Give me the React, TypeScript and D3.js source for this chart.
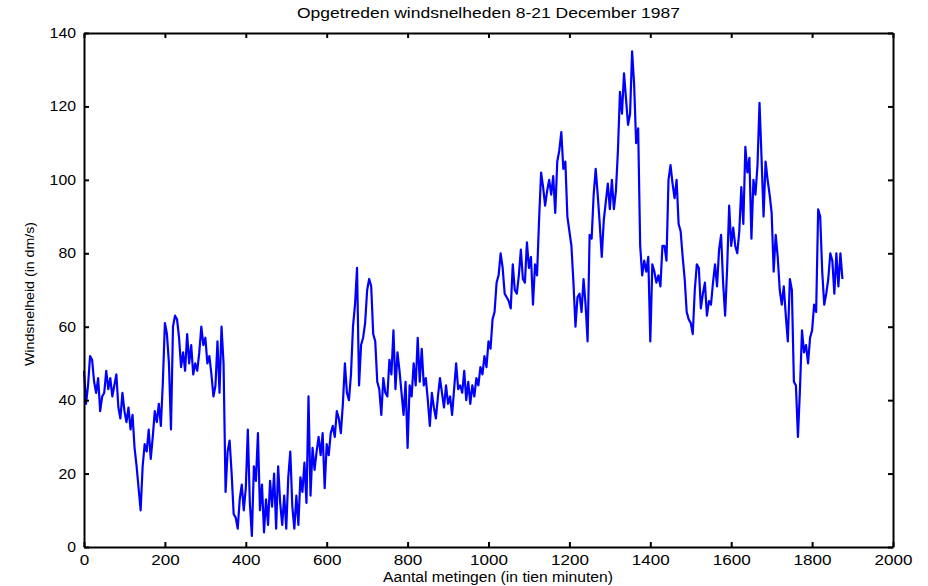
import React, { useRef, useEffect } from "react";
import * as d3 from "d3";

const sampleStep = 5;

const windSpeed = [
  // 0 - 320
  48, 39, 44, 52, 51, 45, 42, 46, 37, 41, 42, 48, 43, 46, 41, 44, 47, 38, 35, 42,
  37, 34, 38, 32, 36, 27, 22, 16, 10, 22, 28, 26, 32, 24, 30, 37, 34, 39, 33, 45,
  61, 58, 50, 32, 60, 63, 62, 57, 49, 53, 48, 58, 50, 55, 47, 50, 48, 53, 60, 55,
  57, 50, 52, 47, 41,
  // 325 - 630
  44, 56, 42, 60, 50, 15, 26, 29, 20, 9, 8, 5, 13, 17, 10, 16, 32, 12, 3, 22,
  18, 31, 10, 17, 4, 13, 6, 18, 11, 20, 5, 22, 12, 6, 14, 5, 19, 26, 11, 5,
  14, 6, 19, 15, 23, 12, 41, 14, 27, 21, 26, 30, 25, 31, 16, 28, 25, 31, 33, 30,
  37, 35,
  // 635 - 940
  31, 39, 50, 42, 40, 47, 60, 66, 76, 44, 55, 57, 61, 70, 73, 71, 58, 56, 45, 43,
  36, 46, 42, 41, 51, 47, 59, 43, 53, 48, 42, 36, 45, 27, 44, 41, 50, 44, 57, 45,
  54, 44, 46, 40, 33, 42, 38, 35, 41, 46, 42, 38, 44, 39, 41, 36, 43, 50, 43, 44,
  42, 48,
  // 945 - 1245
  40, 45, 39, 44, 41, 46, 44, 49, 47, 52, 49, 56, 54, 62, 64, 72, 74, 80, 76, 69,
  68, 67, 65, 77, 70, 69, 74, 81, 73, 72, 83, 76, 79, 66, 77, 74, 89, 102, 98, 93,
  97, 100, 96, 101, 91, 105, 108, 113, 103, 105, 90, 86, 82, 72, 60, 68, 69, 64, 73, 66,
  56,
  // 1250 - 1555
  85, 84, 96, 103, 96, 88, 79, 89, 94, 99, 92, 100, 92, 97, 108, 124, 118, 129, 122, 115,
  118, 135, 126, 110, 114, 82, 74, 78, 75, 79, 56, 77, 75, 72, 74, 71, 82, 82, 78, 100,
  104, 99, 95, 100, 88, 86, 79, 73, 64, 62, 61, 58, 70, 77, 76, 65, 69, 72, 63, 67,
  66, 72,
  // 1560 - 1875
  77, 71, 81, 85, 72, 63, 76, 93, 82, 87, 82, 80, 86, 98, 88, 109, 102, 106, 84, 100,
  96, 104, 121, 106, 90, 105, 100, 96, 91, 75, 85, 79, 70, 66, 71, 63, 56, 73, 70, 45,
  44, 30, 43, 59, 53, 55, 50, 57, 59, 66, 64, 92, 90, 75, 66, 69, 73, 80, 78, 69,
  80, 71, 80, 73,
];

const xTicks = [0, 200, 400, 600, 800, 1000, 1200, 1400, 1600, 1800, 2000];
const yTicks = [0, 20, 40, 60, 80, 100, 120, 140];

const title = "Opgetreden windsnelheden 8-21 December 1987";
const xLabel = "Aantal metingen (in tien minuten)";
const yLabel = "Windsnelheid (in dm/s)";

export default function App() {
  const ref = useRef<SVGSVGElement>(null);

  useEffect(() => {
    if (!ref.current) return;
    const svg = d3.select(ref.current);
    svg.selectAll("*").remove();

    const W = 928;
    const H = 586;
    const margin = { top: 33, right: 35, bottom: 39, left: 84 };
    const font = "'Liberation Sans', Arial, sans-serif";

    const x = d3.scaleLinear().domain([0, 2000]).range([margin.left, W - margin.right]);
    const y = d3.scaleLinear().domain([0, 140]).range([H - margin.bottom, margin.top]);

    // data line
    const line = d3
      .line<number>()
      .x((_, i) => x(i * sampleStep))
      .y((d) => y(d));
    svg
      .append("path")
      .datum(windSpeed)
      .attr("fill", "none")
      .attr("stroke", "#0000ff")
      .attr("stroke-width", 2.2)
      .attr("stroke-linejoin", "round")
      .attr("d", line);

    // axes, ticks pointing inward on every side
    const styleAxis = (g: d3.Selection<SVGGElement, unknown, null, undefined>) => {
      g.select(".domain").attr("stroke", "#000").attr("stroke-width", 2);
      g.selectAll(".tick line").attr("stroke", "#000").attr("stroke-width", 2);
      g.selectAll("text")
        .attr("fill", "#000")
        .style("font-family", font)
        .style("font-size", "14px");
    };

    const bottom = svg
      .append("g")
      .attr("transform", `translate(0,${H - margin.bottom})`)
      .call(d3.axisBottom(x).tickValues(xTicks).tickSize(-5).tickSizeOuter(0).tickPadding(8).tickFormat(d3.format("d")));
    styleAxis(bottom);
    bottom.selectAll<SVGTextElement, number>("text")
      .attr("textLength", (d) => String(d).length * 9.5)
      .attr("lengthAdjust", "spacingAndGlyphs");

    const left = svg
      .append("g")
      .attr("transform", `translate(${margin.left},0)`)
      .call(d3.axisLeft(y).tickValues(yTicks).tickSize(-5).tickSizeOuter(0).tickPadding(8).tickFormat(d3.format("d")));
    styleAxis(left);
    left.selectAll<SVGTextElement, number>("text")
      .attr("textLength", (d) => String(d).length * 8.8)
      .attr("lengthAdjust", "spacingAndGlyphs");

    const top = svg
      .append("g")
      .attr("transform", `translate(0,${margin.top})`)
      .call(d3.axisTop(x).tickValues(xTicks).tickSize(-5).tickSizeOuter(0).tickFormat(() => ""));
    styleAxis(top);

    const right = svg
      .append("g")
      .attr("transform", `translate(${W - margin.right},0)`)
      .call(d3.axisRight(y).tickValues(yTicks).tickSize(-5).tickSizeOuter(0).tickFormat(() => ""));
    styleAxis(right);

    // title & labels
    svg
      .append("text")
      .attr("x", 488.5)
      .attr("y", 18)
      .attr("text-anchor", "middle")
      .attr("textLength", 383)
      .attr("lengthAdjust", "spacingAndGlyphs")
      .style("font-family", font)
      .style("font-size", "14px")
      .text(title);

    svg
      .append("text")
      .attr("x", 498)
      .attr("y", 582)
      .attr("text-anchor", "middle")
      .attr("textLength", 230)
      .attr("lengthAdjust", "spacingAndGlyphs")
      .style("font-family", font)
      .style("font-size", "14px")
      .text(xLabel);

    svg
      .append("text")
      .attr("transform", "translate(34,294) rotate(-90)")
      .attr("text-anchor", "middle")
      .attr("textLength", 144)
      .attr("lengthAdjust", "spacingAndGlyphs")
      .style("font-family", font)
      .style("font-size", "13px")
      .text(yLabel);
  }, []);

  return (
    <svg
      ref={ref}
      width={928}
      height={586}
      style={{ position: "absolute", left: 0, top: 0, background: "#fff" }}
    />
  );
}
